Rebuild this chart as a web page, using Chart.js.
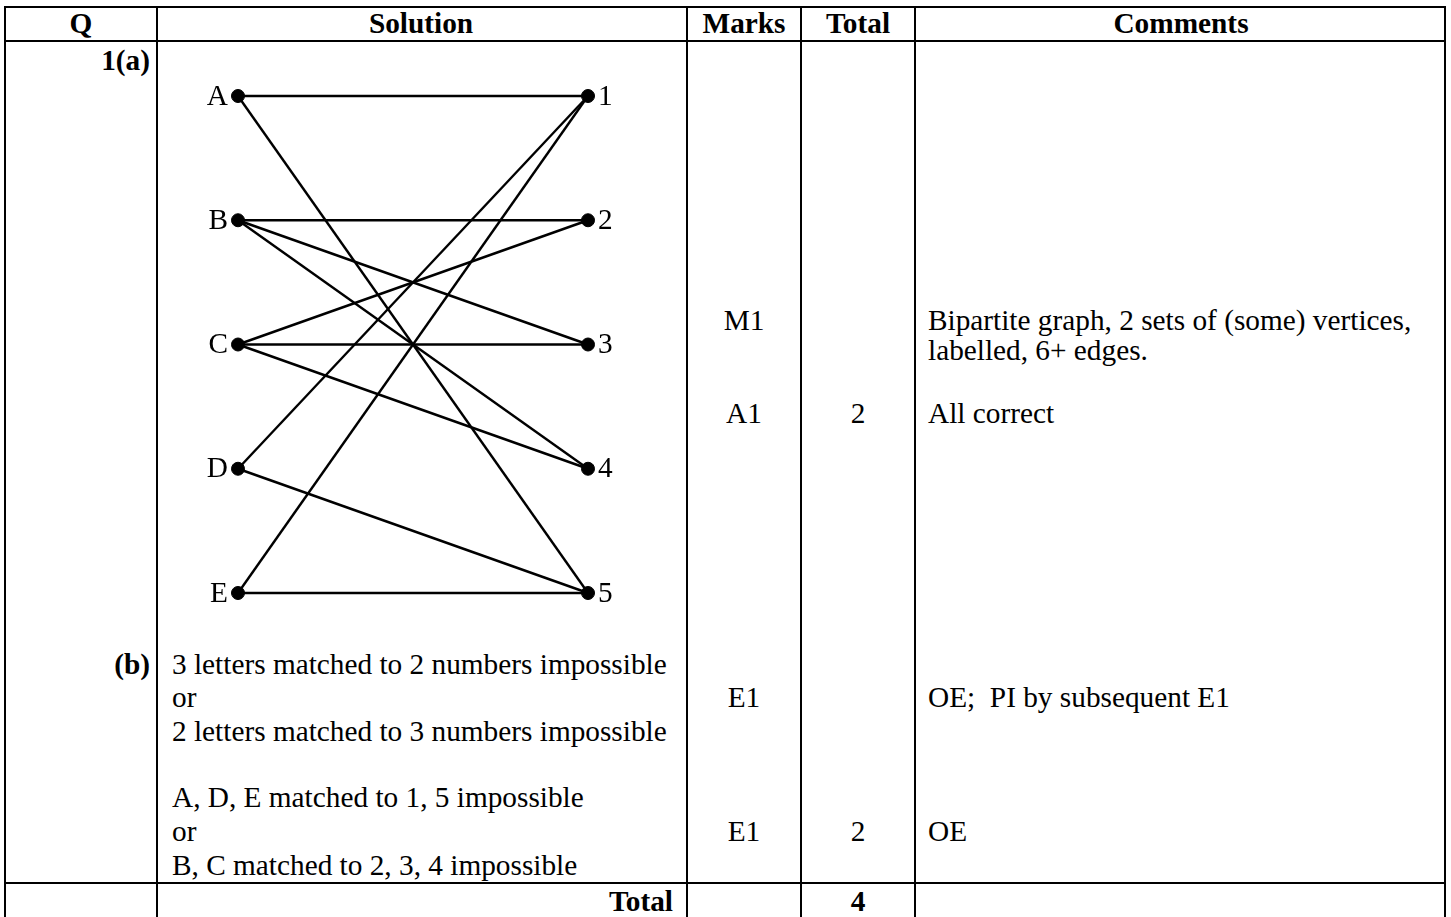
<!DOCTYPE html>
<html>
<head>
<meta charset="utf-8">
<script src="https://cdn.jsdelivr.net/npm/chart.js@4.4.1/dist/chart.umd.min.js"></script>
<style>
  html, body { margin: 0; padding: 0; background: #fff; overflow: hidden; }
  #sheet { position: relative; width: 1451px; height: 917px; font-family: 'Liberation Serif', 'Times New Roman', serif; font-size: 29.3px; color: #000; }
  .vl { position: absolute; top: 6px; width: 2px; height: 920px; background: #000; }
  .hl { position: absolute; left: 4px; width: 1442px; height: 2px; background: #000; }
  .t { position: absolute; line-height: 33px; white-space: nowrap; }
  .b { font-weight: bold; }
  .c { transform: translateX(-50%); }
  .r { transform: translateX(-100%); }
  #graph { position: absolute; left: 159px; top: 42px; width: 527px; height: 606px; }
</style>
</head>
<body>
<div id="sheet">
  <div class="hl" style="top:6px"></div>
  <div class="hl" style="top:40px"></div>
  <div class="hl" style="top:882px"></div>
  <div class="vl" style="left:4px"></div>
  <div class="vl" style="left:156px"></div>
  <div class="vl" style="left:686px"></div>
  <div class="vl" style="left:800px"></div>
  <div class="vl" style="left:914px"></div>
  <div class="vl" style="left:1444px"></div>

  <div class="t b c" style="left:81px; top:7px">Q</div>
  <div class="t b c" style="left:421px; top:7px">Solution</div>
  <div class="t b c" style="left:744px; top:7px">Marks</div>
  <div class="t b c" style="left:858px; top:7px">Total</div>
  <div class="t b c" style="left:1181px; top:7px">Comments</div>

  <div class="t b r" style="left:150px; top:44px">1(a)</div>

  <div class="t c" style="left:744px; top:304px">M1</div>
  <div class="t" style="left:928px; top:304px">Bipartite graph, 2 sets of (some) vertices,</div>
  <div class="t" style="left:928px; top:334px">labelled, 6+ edges.</div>
  <div class="t c" style="left:744px; top:397px">A1</div>
  <div class="t c" style="left:858px; top:397px">2</div>
  <div class="t" style="left:928px; top:397px">All correct</div>

  <div class="t b r" style="left:150px; top:648px">(b)</div>
  <div class="t" style="left:172px; top:648px">3 letters matched to 2 numbers impossible</div>
  <div class="t" style="left:172px; top:681px">or</div>
  <div class="t" style="left:172px; top:715px">2 letters matched to 3 numbers impossible</div>
  <div class="t c" style="left:744px; top:681px">E1</div>
  <div class="t" style="left:928px; top:681px">OE;&nbsp; PI by subsequent E1</div>

  <div class="t" style="left:172px; top:781px">A, D, E matched to 1, 5 impossible</div>
  <div class="t" style="left:172px; top:815px">or</div>
  <div class="t" style="left:172px; top:849px">B, C matched to 2, 3, 4 impossible</div>
  <div class="t c" style="left:744px; top:815px">E1</div>
  <div class="t c" style="left:858px; top:815px">2</div>
  <div class="t" style="left:928px; top:815px">OE</div>

  <div class="t b r" style="left:673px; top:885px">Total</div>
  <div class="t b c" style="left:858px; top:885px">4</div>

  <div id="graph"><canvas id="graph-canvas"></canvas></div>
</div>

<script>
// bipartite graph from question 1(a)
const leftNodes = ['A', 'B', 'C', 'D', 'E'];
const rightNodes = ['1', '2', '3', '4', '5'];
const edges = [
    ['A', '1'], ['A', '5'],
    ['B', '2'], ['B', '3'], ['B', '4'],
    ['C', '2'], ['C', '3'], ['C', '4'],
    ['D', '1'], ['D', '5'],
    ['E', '1'], ['E', '5']
];

const leftPoint = (name) => ({ x: 0, y: leftNodes.indexOf(name) + 1 });
const rightPoint = (name) => ({ x: 1, y: rightNodes.indexOf(name) + 1 });

const edgeDatasets = edges.map(([a, b]) => ({
    type: 'line',
    data: [leftPoint(a), rightPoint(b)],
    borderColor: '#000',
    borderWidth: 2.4,
    pointRadius: 0,
    clip: false,
    order: 2
}));

const nodeDataset = {
    type: 'scatter',
    data: [...leftNodes.map(leftPoint), ...rightNodes.map(rightPoint)],
    backgroundColor: '#000',
    borderColor: '#000',
    pointRadius: 6.5,
    clip: false,
    order: 1
};

const nodeLabels = {
    id: 'nodeLabels',
    afterDatasetsDraw(chart) {
        const { ctx, scales: { x, y } } = chart;
        ctx.save();
        ctx.font = '29.3px "Liberation Serif", "Times New Roman", serif';
        ctx.fillStyle = '#000';
        ctx.textBaseline = 'middle';
        ctx.textAlign = 'right';
        leftNodes.forEach((n, i) => ctx.fillText(n, x.getPixelForValue(0) - 10, y.getPixelForValue(i + 1) + 1));
        ctx.textAlign = 'left';
        rightNodes.forEach((n, i) => ctx.fillText(n, x.getPixelForValue(1) + 10, y.getPixelForValue(i + 1) + 1));
        ctx.restore();
    }
};

new Chart(document.getElementById('graph-canvas').getContext('2d'), {
    type: 'scatter',
    data: { datasets: [...edgeDatasets, nodeDataset] },
    options: {
        responsive: true,
        maintainAspectRatio: false,
        animation: false,
        layout: { padding: { left: 79, right: 98, top: 54, bottom: 55 } },
        scales: {
            x: { type: 'linear', display: false, min: 0, max: 1 },
            y: { type: 'linear', display: false, min: 1, max: 5, reverse: true }
        },
        plugins: {
            legend: { display: false },
            tooltip: { enabled: false }
        }
    },
    plugins: [nodeLabels]
});
</script>
</body>
</html>
